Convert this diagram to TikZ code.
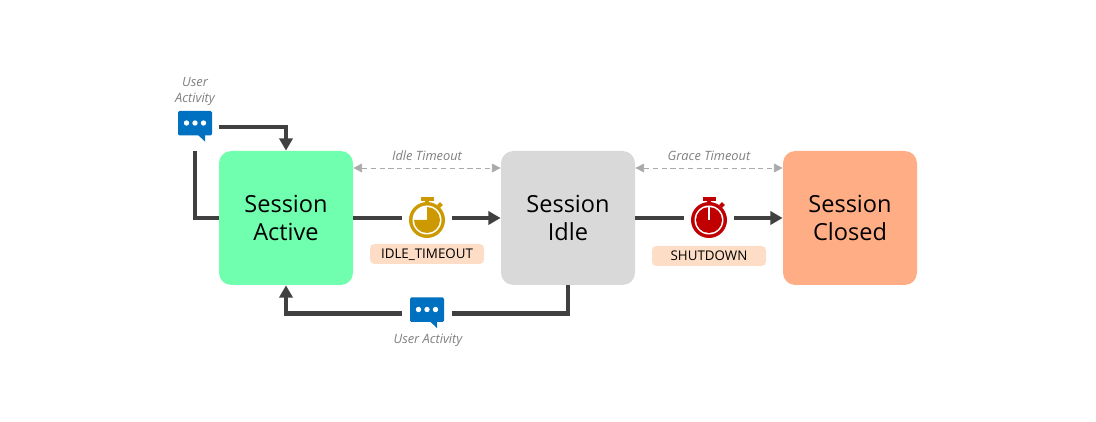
\documentclass[tikz,border=0pt]{standalone}
\usepackage{fontspec}
\setmainfont{Open Sans}
\usepackage{tikz}
\usetikzlibrary{arrows.meta,positioning}
\definecolor{ActiveGreen}{RGB}{112,255,174}
\definecolor{IdleGray}{RGB}{217,217,217}
\definecolor{ClosedOrange}{RGB}{255,173,133}
\definecolor{PillPeach}{RGB}{253,221,197}
\definecolor{LineGray}{RGB}{64,64,64}
\definecolor{NoteGray}{RGB}{127,127,127}
\definecolor{DashGray}{RGB}{170,170,170}
\definecolor{ChatBlue}{RGB}{0,112,192}
\definecolor{WatchGold}{RGB}{204,153,0}
\definecolor{WatchRed}{RGB}{192,0,0}
\tikzset{
  state/.style={rounded corners=7pt,minimum width=134*0.02cm,minimum height=134*0.02cm,inner sep=0pt,
    align=center,text=black,font=\fontsize{13.4}{15.9}\selectfont},
  slot/.style={minimum size=#1*0.02cm,inner sep=0pt},
  flow/.style={line width=2.3pt,LineGray},
  flowhead/.style={flow,-{Triangle[length=7pt,width=7.5pt]}},
  span/.style={densely dashed,line width=0.45pt,DashGray,
    {Triangle[length=5pt,width=5pt]}-{Triangle[length=5pt,width=5pt]}},
  note/.style={NoteGray,inner sep=0pt,align=center,font=\fontsize{7.3}{9.2}\selectfont\itshape},
  pill/.style={fill=PillPeach,rounded corners=2.5pt,inner sep=0pt,text=black,
    minimum height=20*0.02cm,minimum width=114*0.02cm,text height=5.4pt,text depth=0pt,
    font=\fontsize{7.6}{9}\selectfont},
  pics/chat/.style={code={
    \fill[ChatBlue,rounded corners=0.8pt] (-17,-16) rectangle (17,8.5);
    \fill[ChatBlue] (3,8) -- (10,8) -- (10,14.5) -- cycle;
    \foreach \dotx in {-8.5,0,8.5} \fill[white] (\dotx,-4) circle (2.7);
  }},
  pics/watchidle/.style={code={
    \watchcase{WatchGold}
    \fill[WatchGold] (0,2) -- (-13,2) arc[start angle=180,end angle=-90,radius=13] -- cycle;
  }},
  pics/watchdown/.style={code={
    \watchcase{WatchRed}
    \fill[WatchRed] (0,2) circle (13);
    \draw[white,line width=0.7pt] (0,2) -- (0,-11);
  }}
}
% stopwatch body shared by both timers, centred on the dial
\newcommand{\watchcase}[1]{
  \fill[#1] (-6.5,-20.5) rectangle (6.5,-17);
  \fill[#1] (-2,-18) rectangle (2,-14);
  \fill[#1,rotate around={45:(13,-13)}] (11,-15) rectangle (15,-11);
  \fill[#1] (0,2) circle (18);
  \fill[white] (0,2) circle (14.5);
}

\begin{document}
\begin{tikzpicture}[x=0.02cm,y=-0.02cm,>=Latex]
  \useasboundingbox (0,0) rectangle (1096,422);
  % the three session states
  \node[state,fill=ActiveGreen] (active) at (286,218) {Session\\Active};
  \node[state,fill=IdleGray] (idle) at (568,218) {Session\\Idle};
  \node[state,fill=ClosedOrange] (closed) at (850,218) {Session\\Closed};
  % room kept free round the icons
  \node[slot=48] (chatTop) at (195,127) {};
  \node[slot=49] (chatBack) at (427,313.5) {};
  \node[slot=50] (watchIdle) at (427,218) {};
  \node[slot=50] (watchDown) at (709,218) {};
  \pic at (chatTop) {chat};
  \pic at (chatBack) {chat};
  \pic at (watchIdle) {watchidle};
  \pic at (watchDown) {watchdown};
  % flows
  \draw[flowhead] (chatTop.east) -| (active.north);
  \draw[flow] (chatTop.south) |- (active.west);
  \draw[flow] (active.east) -- (watchIdle.west);
  \draw[flowhead] (watchIdle.east) -- (idle.west);
  \draw[flow] (idle.east) -- (watchDown.west);
  \draw[flowhead] (watchDown.east) -- (closed.west);
  \draw[flow] (idle.south) |- (chatBack.east);
  \draw[flowhead] (chatBack.west) -| (active.south);
  % timeout spans
  \coordinate (idleA) at (active.east |- 0,168);
  \coordinate (idleB) at (idle.west |- 0,168);
  \coordinate (graceA) at (idle.east |- 0,168);
  \coordinate (graceB) at (closed.west |- 0,168);
  \draw[span] (idleA) -- (idleB);
  \draw[span] (graceA) -- (graceB);
  \node[note] (idleNote) at (427,156) {Idle Timeout};
  \node[note] (graceNote) at (709,156) {Grace Timeout};
  \node[note] (topNote) at (195,91.5) {User\\Activity};
  \node[note] (backNote) at (428,340.5) {User Activity};
  % event names
  \node[pill] (idleEvent) at (427,254) {IDLE\_TIMEOUT};
  \node[pill] (downEvent) at (709,256) {SHUTDOWN};
\end{tikzpicture}
\end{document}
